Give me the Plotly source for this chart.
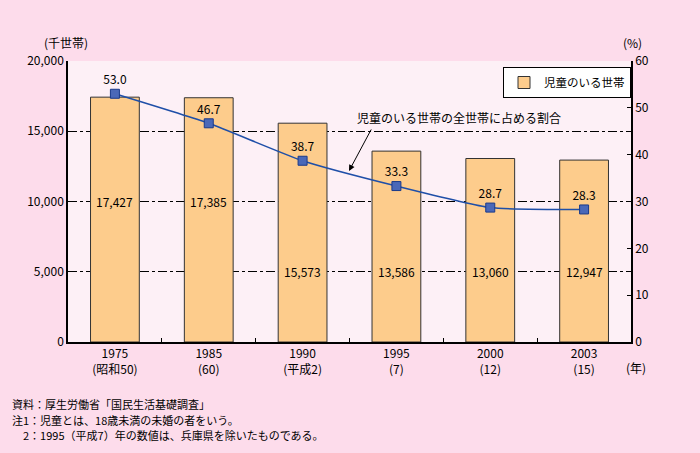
import plotly.graph_objects as go

years = ["1975", "1985", "1990", "1995", "2000", "2003"]
eras = ["(昭和50)", "(60)", "(平成2)", "(7)", "(12)", "(15)"]
households = [17427, 17385, 15573, 13586, 13060, 12947]
share_pct = [53.0, 46.7, 38.7, 33.3, 28.7, 28.3]
bar_name = "児童のいる世帯"
line_name = "児童のいる世帯の全世帯に占める割合"
notes = [
    "資料：厚生労働省「国民生活基礎調査」",
    "注1：児童とは、18歳未満の未婚の者をいう。",
    "　2：1995（平成7）年の数値は、兵庫県を除いたものである。",
]

cats = [f"{y}<br>{e}" for y, e in zip(years, eras)]
FONT = "Noto Sans CJK JP, Noto Sans, sans-serif"

W, H = 700, 453
L, R, T, B = 68, 69, 61, 111
pw, ph = W - L - R, H - T - B
cw = pw / 6


def px_x(x):
    return (x - L) / pw


def px_y(y):
    return (H - B - y) / ph


fig = go.Figure()
fig.add_trace(go.Bar(
    x=cats, y=households, name=bar_name, width=0.52,
    marker=dict(color="#FDCC8C", line=dict(color="#333333", width=1)),
    showlegend=True,
))
fig.add_trace(go.Scatter(
    x=cats, y=share_pct, yaxis="y2", name=line_name,
    mode="lines+markers+text",
    line=dict(color="#1F4FA8", width=1.5, shape="spline", smoothing=0.5),
    marker=dict(symbol="square", size=9, color="#4A68B8",
                line=dict(color="#1A3A8A", width=1)),
    text=[f"{v:.1f}" for v in share_pct], textposition="top center",
    textfont=dict(size=12, color="#000000"),
    showlegend=False,
))

annotations = []
for i, v in enumerate(households):
    lvl = 10000 if v > 17000 else 5000
    annotations.append(dict(x=cats[i], y=lvl, xref="x", yref="y", text=f"{v:,}",
                            showarrow=False, font=dict(size=12, color="#000")))

# callout text
annotations.append(dict(
    x=(355 - L) / cw - 0.5, y=(342 - 117) / ph * 60, xref="x", yref="y2",
    text=line_name, showarrow=False, xanchor="left", yanchor="middle",
    font=dict(size=12, color="#000")))
# callout arrow (tip on the line, tail under the text)
annotations.append(dict(
    x=(349 - L) / cw - 0.5, y=(342 - 171) / ph * 60, xref="x", yref="y2",
    ax=23, ay=-43, text="", showarrow=True, arrowhead=2, arrowsize=1.2,
    arrowwidth=1, arrowcolor="#000", standoff=0, startstandoff=0))

annotations.append(dict(x=px_x(66), y=px_y(42), xref="paper", yref="paper", text="(千世帯)",
                        showarrow=False, xanchor="center", yanchor="middle",
                        font=dict(size=12)))
annotations.append(dict(x=px_x(632), y=px_y(42), xref="paper", yref="paper", text="(%)",
                        showarrow=False, xanchor="center", yanchor="middle",
                        font=dict(size=12)))
annotations.append(dict(x=px_x(636), y=px_y(367), xref="paper", yref="paper", text="(年)",
                        showarrow=False, xanchor="center", yanchor="middle",
                        font=dict(size=12)))
for i, t in enumerate(notes):
    annotations.append(dict(x=px_x(10), y=px_y(404 + 15.5 * i), xref="paper", yref="paper",
                            text=t, showarrow=False, xanchor="left", yanchor="middle",
                            font=dict(size=11)))

fig.update_layout(
    width=W, height=H,
    margin=dict(l=L, r=R, t=T, b=B, autoexpand=False),
    paper_bgcolor="#FDDCEB",
    plot_bgcolor="#FDF0F6",
    font=dict(family=FONT, size=12, color="#000"),
    xaxis=dict(type="category", showline=True, linecolor="#000", linewidth=1.5,
               ticks="inside", ticklen=4, tickson="boundaries", tickcolor="#000",
               showgrid=False, tickfont=dict(size=12), automargin=False),
    yaxis=dict(range=[0, 20000], dtick=5000, tickformat=",d",
               showline=True, linecolor="#000", linewidth=1.5,
               ticks="inside", ticklen=5, tickcolor="#000",
               showgrid=True, gridcolor="#000", gridwidth=1, griddash="dashdot",
               zeroline=False, tickfont=dict(size=12), automargin=False),
    yaxis2=dict(range=[0, 60], dtick=10, overlaying="y", side="right",
                showline=True, linecolor="#000", linewidth=1.5,
                ticks="inside", ticklen=4, tickcolor="#000",
                showgrid=False, zeroline=False, tickfont=dict(size=12), automargin=False),
    legend=dict(x=px_x(503), y=px_y(67), xanchor="left", yanchor="top",
                bgcolor="#FFFFFF", bordercolor="#000", borderwidth=1,
                font=dict(size=11.5), itemwidth=30, tracegroupgap=0),
    annotations=annotations,
    showlegend=True,
)

fig.write_html("out.html", config={"displayModeBar": False},
               post_script="document.body.style.margin='0';document.body.style.background='#FDDCEB';")
